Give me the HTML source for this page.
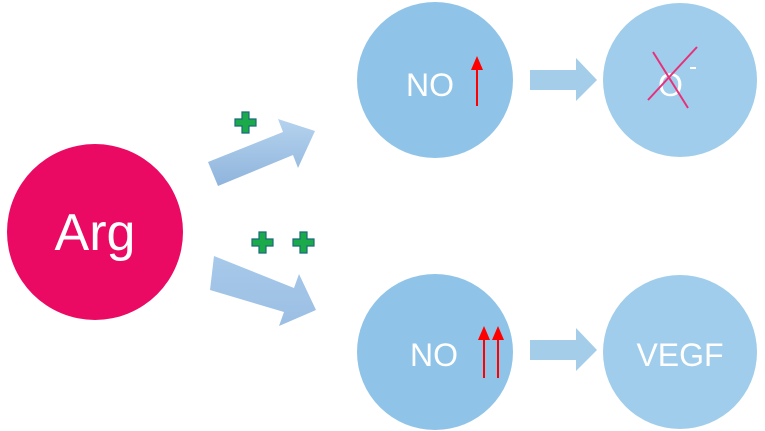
<!DOCTYPE html>
<html><head><meta charset="utf-8"><style>
body{margin:0;background:#fff;}
svg{display:block;font-family:"Liberation Sans",sans-serif;}
</style></head><body>
<svg width="765" height="431" viewBox="0 0 765 431">
<defs>
<linearGradient id="g1" x1="0" y1="0" x2="0" y2="1"><stop offset="0" stop-color="#b5d3ee"/><stop offset="1" stop-color="#8fb4dc"/></linearGradient>
<linearGradient id="g2" x1="0" y1="0" x2="0" y2="1"><stop offset="0" stop-color="#a7c9ea"/><stop offset="1" stop-color="#9bbfe3"/></linearGradient>
</defs>
<circle cx="95" cy="232" r="88" fill="#ea0a63"/>
<text x="95" y="250" font-size="52" fill="#fff" text-anchor="middle">Arg</text>
<circle cx="435" cy="80" r="78" fill="#8fc4e8"/>
<circle cx="680" cy="80" r="77" fill="#a1cdec"/>
<circle cx="435" cy="352" r="78" fill="#8fc4e8"/>
<circle cx="680" cy="352" r="77" fill="#a1cdec"/>
<text x="406" y="96" font-size="32" fill="#fff">NO</text>
<line x1="477" y1="106" x2="477" y2="68" stroke="#f00" stroke-width="2"/><polygon points="471,70 483,70 477,56" fill="#f00"/>
<text x="410" y="366" font-size="32" fill="#fff">NO</text>
<line x1="484" y1="378" x2="484" y2="338" stroke="#f00" stroke-width="2"/><polygon points="478,340 490,340 484,326" fill="#f00"/>
<line x1="498" y1="378" x2="498" y2="338" stroke="#f00" stroke-width="2"/><polygon points="492,340 504,340 498,326" fill="#f00"/>
<text x="658" y="96" font-size="32" fill="#fff">O</text>
<line x1="690" y1="68" x2="696" y2="68" stroke="#fff" stroke-width="2"/>
<line x1="653" y1="52" x2="688" y2="108" stroke="#e8307a" stroke-width="2"/>
<line x1="697" y1="47" x2="648" y2="100" stroke="#e8307a" stroke-width="2"/>
<text x="680" y="366" font-size="32" fill="#fff" text-anchor="middle">VEGF</text>
<polygon points="530,70 576,70 576,58 597,80 576,101 576,90 530,90" fill="#a4cdea"/>
<polygon points="530,340 576,340 576,328 597,350 576,371 576,360 530,360" fill="#a4cdea"/>
<polygon points="208,162 283,132 278,119 315,131 298,168 293,155 218,186" fill="url(#g1)"/>
<polygon points="214,256 294,288 299,274 316,310 279,326 284,312 210,290" fill="url(#g2)"/>
<g fill="#1aaa4a" stroke="#1a6a7a" stroke-width="1.2">
<path d="M242,112h7v7h7v7h-7v7h-7v-7h-7v-7h7z"/>
<path d="M259,232h7v7h7v7h-7v7h-7v-7h-7v-7h7z"/>
<path d="M300,232h7v7h7v7h-7v7h-7v-7h-7v-7h7z"/>
</g>
</svg>
</body></html>
